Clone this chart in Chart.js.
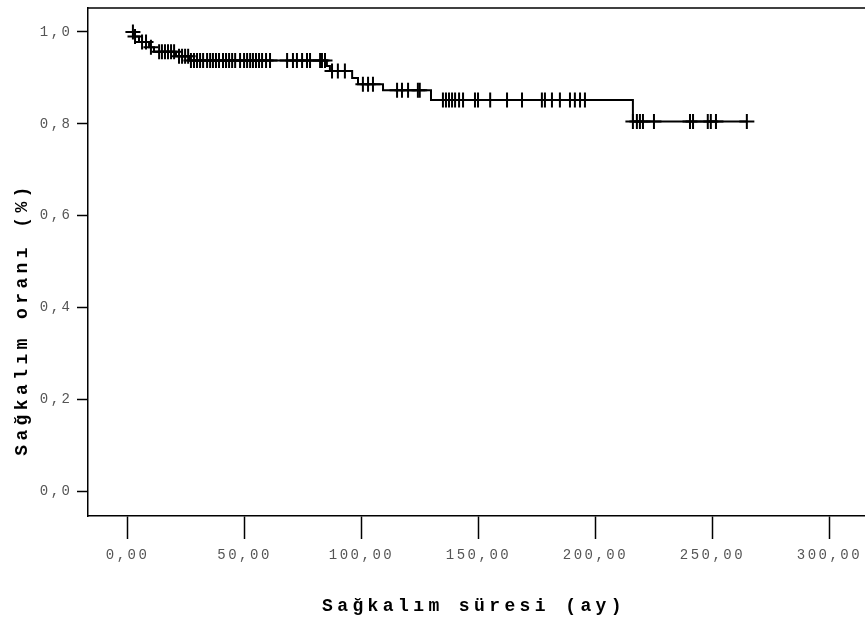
<!DOCTYPE html>
<html>
<head>
<meta charset="utf-8">
<script src="https://cdn.jsdelivr.net/npm/chart.js@4/dist/chart.umd.min.js"></script>
<style>
  html, body { margin: 0; padding: 0; background: #fff; }
  canvas { display: block; }
</style>
</head>
<body>
<canvas id="survivalChart" width="865" height="624"></canvas>
<script>
// Kaplan-Meier steps: time (months) and survival after each event
var eventTimes = [0.5, 2.8, 4.9, 9.2, 11.3, 20.7, 26.7, 85.2, 86.5, 96.0, 98.5, 109.2, 129.7, 216.0, 264.7];
var survival   = [1.0, 0.99, 0.978, 0.967, 0.957, 0.947, 0.938, 0.926, 0.915, 0.90, 0.886, 0.873, 0.852, 0.805, 0.805];

// censored cases (months)
var censorTimes = [
  2.3, 3.2, 6.2, 7.9, 10.0,
  13.5, 14.7, 16.0, 17.3, 18.6, 19.9,
  22.0, 23.3, 24.6, 25.9,
  27.1, 28.4, 29.7, 31.0, 32.3, 34.0, 35.3, 36.5, 37.8, 39.1, 40.8, 42.1, 43.4, 44.7, 46.0,
  48.1, 49.8, 51.1, 52.4, 53.6, 54.9, 56.2, 57.5, 59.2, 60.9,
  68.2, 70.7, 72.4, 74.6, 76.7, 78.0, 82.3, 83.1, 84.4,
  87.4, 89.9, 92.9,
  100.6, 102.8, 104.9,
  115.2, 117.3, 119.9, 124.1, 124.9,
  134.8, 136.1, 137.4, 138.7, 140.0, 141.7, 143.4, 148.5, 149.8, 155.0, 162.2, 168.6,
  177.1, 178.4, 181.4, 184.8, 189.1, 191.2, 193.4, 195.5,
  216.0, 217.7, 219.0, 220.3, 225.0, 240.4, 241.7, 248.0, 249.3, 251.5, 264.7
];

var xTicks = [0, 50, 100, 150, 200, 250, 300];
var xTickLabels = ['0,00', '50,00', '100,00', '150,00', '200,00', '250,00', '300,00'];
var yTicks = [0, 0.2, 0.4, 0.6, 0.8, 1.0];
var yTickLabels = ['0,0', '0,2', '0,4', '0,6', '0,8', '1,0'];

var xTitle = 'Sağkalım süresi (ay)';
var yTitle = 'Sağkalım oranı (%)';

function survivalAt(t) {
  var s = survival[0];
  for (var i = 0; i < eventTimes.length; i++) {
    if (eventTimes[i] <= t) s = survival[i];
  }
  return s;
}

var curve = eventTimes.map(function (t, i) { return { x: t, y: survival[i] }; });
var censored = censorTimes.map(function (t) { return { x: t, y: survivalAt(t) }; });

var tickFont = { family: '"Liberation Mono", "Courier New", monospace', size: 14 };

// top frame line, letter spacing and the two axis titles
var frameAndTitles = {
  id: 'frameAndTitles',
  beforeDraw: function (chart) {
    chart.ctx.letterSpacing = '2.5px';
  },
  afterDraw: function (chart) {
    var ctx = chart.ctx, a = chart.chartArea;
    ctx.save();
    ctx.strokeStyle = '#000';
    ctx.lineWidth = 1.5;
    ctx.beginPath();
    ctx.moveTo(a.left, a.top);
    ctx.lineTo(a.right, a.top);
    ctx.stroke();

    ctx.fillStyle = '#000';
    ctx.font = 'bold 18px "Liberation Mono", "Courier New", monospace';
    ctx.letterSpacing = '4.4px';
    ctx.textAlign = 'center';
    ctx.textBaseline = 'middle';
    ctx.fillText(xTitle, 474, 606);

    ctx.translate(22, 319);
    ctx.rotate(-Math.PI / 2);
    ctx.fillText(yTitle, 0, 0);
    ctx.restore();
  }
};

function fixTicks(values) {
  return function (scale) {
    scale.ticks = values.map(function (v) { return { value: v }; });
  };
}

var ctx = document.getElementById('survivalChart').getContext('2d');
var chart = new Chart(ctx, {
  data: {
    datasets: [
      {
        type: 'line',
        data: curve,
        stepped: true,
        borderColor: '#000',
        borderWidth: 2,
        pointRadius: 0,
        fill: false
      },
      {
        type: 'scatter',
        data: censored,
        pointStyle: 'cross',
        pointRadius: 7.5,
        borderColor: '#000',
        borderWidth: 2,
        showLine: false
      }
    ]
  },
  plugins: [frameAndTitles],
  options: {
    responsive: false,
    devicePixelRatio: 1,
    animation: false,
    layout: { autoPadding: false, padding: { top: 8, right: 0, bottom: 0, left: 0 } },
    plugins: { legend: { display: false }, tooltip: { enabled: false } },
    scales: {
      x: {
        type: 'linear',
        min: -16.9,
        max: 315.2,
        afterBuildTicks: fixTicks(xTicks),
        afterFit: function (scale) {
          scale.height = 108;
          scale.paddingLeft = 0;
          scale.paddingRight = 0;
        },
        grid: { drawOnChartArea: false, drawTicks: true, tickLength: 23, tickColor: '#000', tickWidth: 1.5 },
        border: { color: '#000', width: 1.5 },
        ticks: {
          font: tickFont,
          color: '#555',
          padding: 8,
          maxRotation: 0,
          autoSkip: false,
          callback: function (v, i) { return xTickLabels[i]; }
        }
      },
      y: {
        min: -0.0533,
        max: 1.0522,
        afterBuildTicks: fixTicks(yTicks),
        afterFit: function (scale) {
          scale.width = 88;
          scale.paddingTop = 0;
          scale.paddingBottom = 0;
        },
        grid: { drawOnChartArea: false, drawTicks: true, tickLength: 11, tickColor: '#000', tickWidth: 1.5 },
        border: { color: '#000', width: 1.5 },
        ticks: {
          font: tickFont,
          color: '#555',
          padding: 4.5,
          autoSkip: false,
          callback: function (v, i) { return yTickLabels[i]; }
        }
      }
    }
  }
});
</script>
</body>
</html>
